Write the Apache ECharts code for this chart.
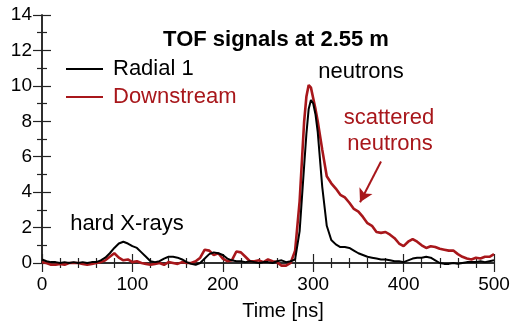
<!DOCTYPE html>
<html>
<head>
<meta charset="utf-8">
<script src="https://cdn.jsdelivr.net/npm/echarts@6/dist/echarts.min.js"></script>
<style>
html,body{margin:0;padding:0;background:#fff;}
#chart{width:515px;height:326px;}
</style>
</head>
<body>
<div id="chart"></div>
<script>
const timeNs = [0,5,10,15,20,25,30,35,40,45,50,55,60,65,70,75,80,85,90,95,
  100,105,110,115,120,125,130,135,140,145,150,155,160,165,170,175,180,185,190,195,
  200,205,210,215,220,225,230,235,240,245,250,255,260,265,270,275,280,285,290,
  292.5,295,297.5,300,302.5,
  305,310,315,320,325,330,335,340,345,350,355,360,365,370,375,380,385,390,395,
  400,405,410,415,420,425,430,435,440,445,450,455,460,465,470,475,480,485,490,495,500];

const radial1 = [0.2,0.1,0.05,0.05,0.0,0.05,0.0,0.05,0.0,0.05,0.0,0.05,0.05,0.15,0.3,0.55,0.85,1.1,1.2,1.1,
  0.95,0.85,0.6,0.35,0.1,0.05,0.1,0.25,0.35,0.35,0.3,0.2,0.05,-0.05,-0.1,0.0,0.25,0.5,0.6,0.55,
  0.45,0.25,0.15,0.1,0.1,0.05,0.1,0.05,0.0,0.05,0.05,0.0,0.1,0.15,0.05,0.1,0.2,1.8,5.5,
  7.3,8.7,9.2,9.0,8.4,
  7.4,4.3,2.1,1.3,1.05,0.9,0.9,0.85,0.7,0.55,0.45,0.35,0.3,0.25,0.2,0.2,0.15,0.1,0.1,
  0.05,0.15,0.25,0.3,0.3,0.35,0.3,0.15,0.0,-0.05,-0.05,0.0,-0.05,0.0,0.05,0.05,0.05,0.1,0.05,0.1,0.15];

const downstream = [0.05,0.0,-0.1,-0.1,-0.05,-0.1,0.0,0.0,0.0,-0.05,-0.1,-0.05,0.0,0.05,0.15,0.35,0.55,0.3,0.15,0.2,
  0.05,0.1,0.0,-0.05,-0.1,-0.05,0.0,-0.1,0.05,0.0,-0.05,0.05,0.0,0.0,0.1,0.3,0.75,0.7,0.45,0.55,
  0.25,0.1,0.15,0.65,0.6,0.35,0.1,0.1,0.15,0.05,0.2,0.1,0.05,-0.15,-0.15,0.0,0.7,3.5,8.0,
  9.4,10.05,9.9,9.3,8.7,
  8.0,6.4,4.9,4.5,4.2,3.85,3.7,3.4,3.05,2.9,2.6,2.25,2.1,1.75,1.7,1.75,1.6,1.4,1.1,
  0.95,1.2,1.35,1.2,1.0,0.85,0.95,0.9,0.8,0.75,0.7,0.7,0.5,0.35,0.25,0.2,0.3,0.25,0.35,0.35,0.5];

const seriesNames = ['Radial 1', 'Downstream'];
const xTicks = [0, 500, 100];
const yTicks = [0, 14, 2];
const arrowFrom = [375, 5.73];
const arrowTo = [351.8, 3.43];

const RED = '#a8171b';
const FONT = '"Liberation Sans", Arial, sans-serif';

function pairs(xs, ys){ return xs.map((x,i)=>[x, ys[i]]); }

const axisCommon = {
  axisLine: {show: true, lineStyle: {color: '#222', width: 1.5}},
  axisTick: {show: true, inside: true, length: 9, lineStyle: {color: '#222', width: 1.2}},
  minorTick: {show: true, length: 5, lineStyle: {color: '#222', width: 1.2}},
  splitLine: {show: false},
  minorSplitLine: {show: false}
};

function xAx(pos, labels){
  return Object.assign({}, axisCommon, {
    type: 'value', position: pos, min: xTicks[0], max: xTicks[1], interval: xTicks[2],
    minorTick: Object.assign({}, axisCommon.minorTick, {splitNumber: 5}),
    axisLabel: {show: labels, color: '#000', fontSize: 19, fontFamily: FONT, margin: 12},
    name: labels ? 'Time [ns]' : '',
    nameLocation: 'middle', nameGap: 38,
    nameTextStyle: {color: '#000', fontSize: 20, fontFamily: FONT, padding: [0,0,0,30]}
  });
}
function yAx(pos, labels){
  return Object.assign({}, axisCommon, {
    type: 'value', position: pos, min: yTicks[0], max: yTicks[1], interval: yTicks[2],
    minorTick: Object.assign({}, axisCommon.minorTick, {splitNumber: 2}),
    axisLabel: {show: labels, color: '#000', fontSize: 19, fontFamily: FONT, margin: 10}
  });
}

const chart = echarts.init(document.getElementById('chart'), null, {renderer: 'canvas'});
chart.setOption({
  animation: false,
  backgroundColor: '#fff',
  grid: {left: 42, right: 21, top: 15, bottom: 62},
  xAxis: [xAx('bottom', true), xAx('top', false)],
  yAxis: [yAx('left', true), yAx('right', false)],
  legend: {
    orient: 'vertical', left: 66, top: 58, padding: 0,
    icon: 'rect', itemWidth: 37, itemHeight: 2, itemGap: 6,
    data: [
      {name: seriesNames[0], textStyle: {color: '#000'}, itemStyle: {color: '#000'}},
      {name: seriesNames[1], textStyle: {color: RED}, itemStyle: {color: RED}}
    ],
    textStyle: {fontSize: 22, fontFamily: FONT, padding: [0,0,0,5]}
  },
  series: [
    {
      name: seriesNames[1], type: 'line', xAxisIndex: 0, yAxisIndex: 0,
      data: pairs(timeNs, downstream), showSymbol: false, symbol: 'none', clip: false,
      lineStyle: {color: RED, width: 2.6}, itemStyle: {color: RED},
      markLine: {
        silent: true, symbol: ['none', 'arrow'], symbolSize: [11, 13],
        lineStyle: {color: RED, width: 2, type: 'solid'}, label: {show: false},
        data: [[{coord: arrowFrom}, {coord: arrowTo}]]
      }
    },
    {
      name: seriesNames[0], type: 'line', xAxisIndex: 0, yAxisIndex: 0,
      data: pairs(timeNs, radial1), showSymbol: false, symbol: 'none', clip: false,
      lineStyle: {color: '#000', width: 2}, itemStyle: {color: '#000'}
    }
  ],
  graphic: [
    {type: 'text', x: 276, y: 40, style: {text: 'TOF signals at 2.55 m', fill: '#000', font: 'bold 22px ' + FONT, align: 'center', verticalAlign: 'middle'}},
    {type: 'text', x: 361, y: 72, style: {text: 'neutrons', fill: '#000', font: '22px ' + FONT, align: 'center', verticalAlign: 'middle'}},
    {type: 'text', x: 389, y: 118, style: {text: 'scattered', fill: RED, font: '22px ' + FONT, align: 'center', verticalAlign: 'middle'}},
    {type: 'text', x: 390, y: 144, style: {text: 'neutrons', fill: RED, font: '22px ' + FONT, align: 'center', verticalAlign: 'middle'}},
    {type: 'text', x: 127, y: 224, style: {text: 'hard X-rays', fill: '#000', font: '22px ' + FONT, align: 'center', verticalAlign: 'middle'}}
  ]
});
</script>
</body>
</html>
